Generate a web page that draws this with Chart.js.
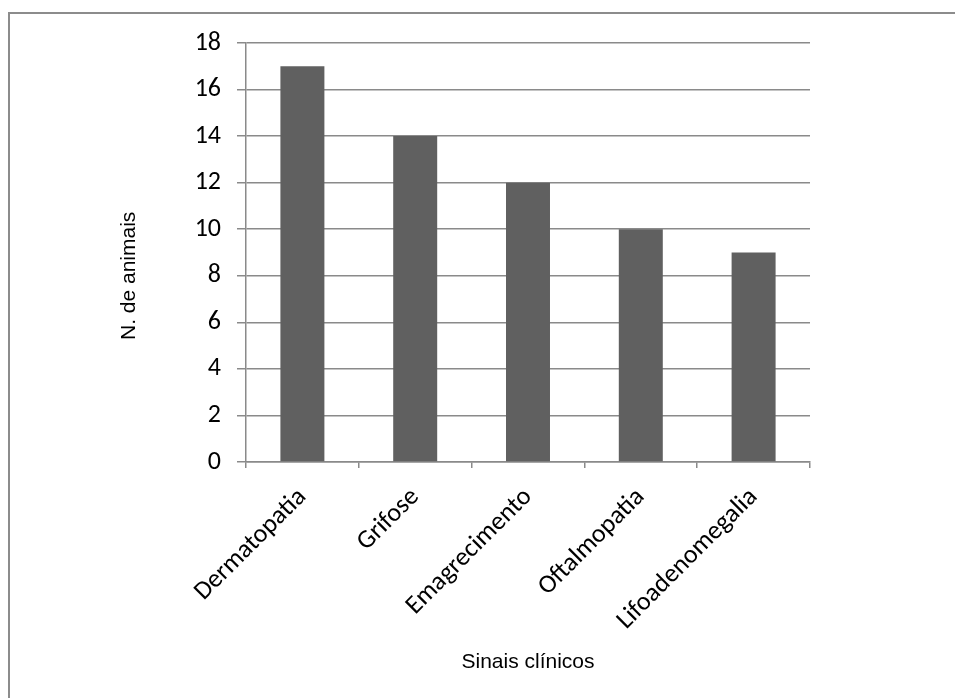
<!DOCTYPE html>
<html>
<head>
<meta charset="utf-8">
<script src="https://cdn.jsdelivr.net/npm/chart.js@4/dist/chart.umd.min.js"></script>
<style>
  html, body { margin: 0; padding: 0; background: #fff; overflow: hidden; }
  #wrap { position: relative; width: 955px; height: 698px; overflow: hidden; }
  #frame { position: absolute; left: 8px; top: 12px; right: 0; bottom: 0;
           border-left: 2px solid #8c8c8c; border-top: 2px solid #8c8c8c; }
  canvas { position: absolute; left: 0; top: 0; }
</style>
</head>
<body>
<div id="wrap">
  <div id="frame"></div>
  <canvas id="c" width="955" height="698"></canvas>
</div>
<script>
// Clinical signs and number of animals showing each one
const categories = ['Dermatopatia', 'Grifose', 'Emagrecimento', 'Oftalmopatia', 'Lifoadenomegalia'];
const animalCounts = [17, 14, 12, 10, 9];
const yTicks = [0, 2, 4, 6, 8, 10, 12, 14, 16, 18];

const tickFont = { family: 'Carlito, Lato, "Open Sans", sans-serif', size: 26 };
const titleFont = { family: '"Liberation Sans", Arial, sans-serif', size: 21 };
const axisGray = '#8a8a8a';

new Chart(document.getElementById('c'), {
  type: 'bar',
  data: {
    labels: categories,
    datasets: [{
      data: animalCounts,
      backgroundColor: '#606060',
      borderWidth: 0,
      barPercentage: 0.39,
      categoryPercentage: 1.0
    }]
  },
  options: {
    responsive: false,
    animation: false,
    devicePixelRatio: 1,
    layout: { padding: { left: 113, right: 145, top: 43, bottom: 19 } },
    plugins: { legend: { display: false }, tooltip: { enabled: false } },
    scales: {
      x: {
        grid: { display: true, drawOnChartArea: false, offset: true, tickLength: 6, color: axisGray, lineWidth: 1.5 },
        border: { display: true, color: axisGray, width: 1.5 },
        ticks: { color: '#000', font: tickFont, minRotation: 45, maxRotation: 45, padding: 14 },
        title: { display: true, text: 'Sinais clínicos', color: '#000', font: titleFont, padding: 4 },
        afterFit: (s) => { s.height = 217; }
      },
      y: {
        min: 0, max: 18,
        afterBuildTicks: (s) => { s.ticks = yTicks.map(v => ({ value: v })); },
        grid: { color: axisGray, lineWidth: 1.5, tickLength: 9 },
        border: { display: true, color: axisGray, width: 1.5 },
        ticks: { color: '#000', font: tickFont, padding: 16 },
        // trailing spaces lower the rotated title a little along the axis
        title: { display: true, text: 'N. de animais        ', color: '#000', font: titleFont, padding: 4 },
        afterFit: (s) => { s.width = 133; }
      }
    }
  }
});
</script>
</body>
</html>
